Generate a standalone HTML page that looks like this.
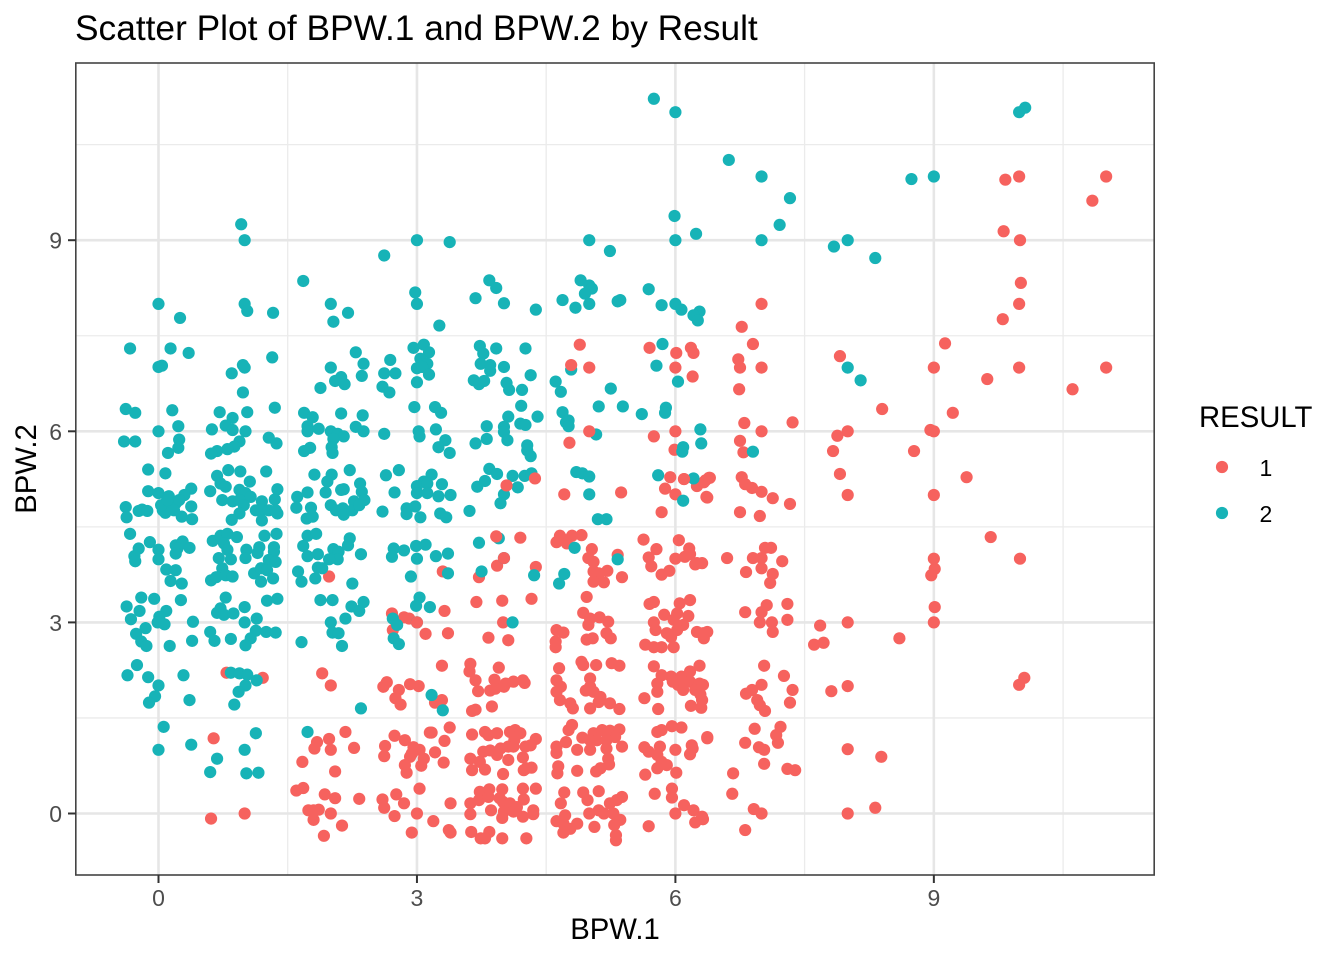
<!DOCTYPE html>
<html lang="en">
<head>
<meta charset="utf-8">
<title>Scatter Plot of BPW.1 and BPW.2 by Result</title>
<style>
html,body{margin:0;padding:0;background:#fff;}
svg{display:block;font-family:"Liberation Sans",Arial,sans-serif;}
</style>
</head>
<body>
<svg id="chart" xmlns="http://www.w3.org/2000/svg" width="1344" height="960" viewBox="0 0 1344 960">
  <rect x="0" y="0" width="1344" height="960" fill="#ffffff"/>
  <g id="grid"></g>
  <g id="points"></g>
  <rect x="75.8" y="63" width="1078.4" height="812" fill="none" stroke="#444444" stroke-width="1.6"/>
  <g id="axes"></g>
  <text x="75" y="40" font-size="35.3" fill="#000">Scatter Plot of BPW.1 and BPW.2 by Result</text>
  <text x="615" y="939" font-size="29.3" fill="#000" text-anchor="middle">BPW.1</text>
  <text x="0" y="0" font-size="29.3" fill="#000" text-anchor="middle" transform="translate(36,469) rotate(-90)">BPW.2</text>
  <g>
    <text x="1199" y="427" font-size="29.3" fill="#000">RESULT</text>
    <circle cx="1222" cy="467" r="6.1" fill="#F6625E"/>
    <text x="1259.5" y="476" font-size="23" fill="#000">1</text>
    <circle cx="1222" cy="513" r="6.1" fill="#17B3B7"/>
    <text x="1259.5" y="522" font-size="23" fill="#000">2</text>
  </g>
</svg>
<script>
const xTicks = [0, 3, 6, 9];
const yTicks = [0, 3, 6, 9];
const xMinorTicks = [1.5, 4.5, 7.5, 10.5];
const yMinorTicks = [1.5, 4.5, 7.5, 10.5];

const result2X = [
-.12,.08,-.12,0,.12,.38,.30,-.38,-.37,-.23,-.19,-.13,
.05,.08,.14,.2,.27,.38,.39,.03,.1,.24,.18,
.68,.81,.95,1.25,1.06,.6,.72,.78,1.38,1.35,.94,1.01,1.07,
.74,.86,.94,.99,1.2,.94,.85,1.13,1.2,1.2,1.28,1.38,1.36,
1.81,2.01,1.96,2.22,2.34,2.36,1.61,1.73,1.6,1.77,1.72,1.79,
1.94,2.12,2.15,2.27,2.39,2,2.06,2.14,2.15,2.25,2.33,2.6,2.64,
-.33,-.1,-.23,-.28,-.27,0,0,.2,.28,.36,.22,.2,.09,.2,.14,.27,
.63,.72,.8,.91,.76,.8,.7,.84,.74,.61,.67,.78,.86,1.02,1.01,
1.17,1.15,1.23,1.37,1.34,1.34,1.11,1.19,1.28,1.36,1.26,1.19,1.33,
1.73,1.83,1.68,1.73,1.85,2.03,2.09,2.08,1.98,2.22,2.2,2.35,
1.85,1.9,1.62,1.66,1.82,2.25,
-.2,-.05,.26,-.37,-.22,-.32,.09,.01,-.01,.07,.4,-.15,-.26,-.2,-.14,.13,.39,
.78,.72,.68,.76,.87,1,1,1.14,.6,.65,.84,1.13,1.25,1.36,1.07,1.01,1.26,1.38,
1.88,2.02,2,2.17,2.24,2.33,2.38,2.02,2.09,2.13,1.66,
-.25,-.36,-.12,.29,0,-.04,-.11,.36,.06,0,.38,
.84,.94,1.03,1.14,1.01,.93,.88,1.13,1,.68,.6,1.02,1.16,1.73,2.35,
2.79,3.17,3.08,3,3.12,3.29,3,3.12,3.25,3.39,2.74,2.98,2.88,2.88,3.04,3.27,3.34,
3.61,3.7,3.79,3.84,3.93,4.11,4.25,4.33,4.17,4.01,3.97,
4.85,4.92,5,5,5.1,5.2,5.8,6.21,6.09,
2.73,2.85,2.71,2.99,3.1,3,3.22,3.36,2.93,3.36,
3.72,3.95,4.01,4.36,3.75,4.11,
3.03,2.99,3.15,2.72,2.77,2.73,2.79,3,
4.83,5.33,4.71,4.65,3.17,3.3,
3,3.38,5,5.24,6,6.24,5.99,3.84,3.92,3.68,4.01,4.38,2.98,3,3.26,
4.9,5,5.03,4.95,5,4.69,4.84,5.33,5.36,5.69,5.84,6,6.07,6.28,6.21,6.26,
2.96,3.08,3.14,3.04,3.12,3,3.06,3.14,3,2.97,3.21,3.28,3.22,3.02,3.03,3.33,3.25,3.38,
3.68,3.81,3.81,4.01,4.01,4.05,3.73,3.77,3.92,4.26,3.74,3.85,3.85,4.01,4.32,
3.66,3.72,3.78,4.04,4.07,4.22,4.21,4.06,4.4,4.2,4.26,4.28,4.28,4.32,
4.61,4.67,5.25,5.11,5.39,5.61,5.89,5.88,4.69,4.76,4.73,4.76,5.08,5.78,5.85,6.03,6.29,6.3,6.09,6.08,4.79,
.96,1,2.62,1.68,0,.25,1,1.03,1.33,2,2.2,2.03,
-.33,.14,.35,0,.04,.98,1,.85,1.32,.98,1.35,2.29,2.38,2.36,2,2.12,2.05,2.16,1.88,
2.62,2.69,2.75,2.6,2.68,
-.38,-.27,.16,.23,0,-.4,-.27,.24,.23,.11,
.71,.86,.78,.86,1.01,.62,1.03,.94,.88,.8,.68,.61,1.28,1.37,
1.69,1.79,1.73,1.73,1.86,2,2.08,2.15,2.03,2.01,2.02,1.76,1.69,2.12,2.37,2.29,2.38,2.62,
5.75,6,6.62,7,7.33,7.21,7,7.84,8,8.32,8.74,9,9.99,10.06,8,8.15,6.9
];
const result2Y = [
5.40,5.34,5.06,5.03,4.98,5.10,5.0,4.81,4.65,4.75,4.77,4.75,
4.76,4.72,4.87,4.87,4.66,4.82,4.62,4.84,4.92,4.92,4.76,
5.30,5.39,5.37,5.37,5.21,5.06,5.18,5.13,5.09,4.93,5.08,5.03,4.97,
4.92,4.9,4.92,4.84,4.9,4.71,4.61,4.76,4.76,4.6,4.76,4.71,4.76,
5.32,5.32,5.21,5.39,5.18,5.05,4.97,5.04,4.8,4.8,4.63,4.66,
5.04,5.08,5.09,4.9,4.92,4.84,4.76,4.79,4.69,4.76,4.84,4.74,5.31,
4.39,4.26,4.16,4.04,3.96,4.14,3.99,4.21,4.27,4.17,4.16,4.08,3.83,3.82,3.65,3.61,
4.28,4.36,4.39,4.34,4.24,4.14,4.01,3.99,3.85,3.66,3.71,3.74,3.72,4.14,4.01,
4.18,4.09,4.36,4.39,4.18,4.11,3.77,3.85,3.98,3.95,3.82,3.64,3.69,
4.36,4.39,4.2,4.04,4.07,4.15,4.11,3.99,3.99,4.32,4.21,4.07,
3.86,3.85,3.8,3.64,3.69,3.61,
3.39,3.37,3.35,3.25,3.18,3.05,3.18,3.09,3,2.97,3.01,2.91,2.82,2.7,2.63,2.63,2.71,
3.39,3.22,3.15,3.12,3.14,3.24,3,3.06,2.85,2.71,2.74,2.87,2.85,2.84,2.75,2.64,3.34,3.37,
3.35,3.35,3,3.06,3.25,3.18,3.32,2.84,2.83,2.63,2.69,
2.33,2.17,2.14,2.17,2.01,1.84,1.74,1.78,1.36,1,1.08,
2.21,2.2,2.18,2.09,2.01,1.91,1.71,1.26,1,.86,.65,.63,.64,1.28,1.65,
5.39,5.32,5.21,5.14,5.18,5.17,5.03,5.03,4.98,5,5.04,4.82,4.79,4.7,4.65,4.71,4.65,
4.75,5.13,5.22,5.41,5.33,5.3,5.3,5.34,5.12,5.01,4.87,
5.36,5.34,5.29,5.01,4.62,4.62,5.31,5.26,4.91,
4.16,4.13,4.03,4.2,4.22,4,4.04,4.08,3.72,3.77,
4.25,4.32,4.01,3.74,3.8,3,
3.39,3.26,3.24,3.06,2.96,2.75,2.66,3,
4.17,3.99,3.76,3.61,1.86,1.62,
9,8.97,9,8.83,9,9.1,9.38,8.37,8.25,8.09,8.01,7.91,8.18,8,7.66,
8.37,8.29,8.24,8.16,8,8.06,7.94,8.04,8.06,8.23,7.98,8,7.91,7.88,7.82,7.74,
7.31,7.36,7.24,7.14,7.06,6.99,7.01,6.89,6.77,6.38,6.38,6.29,6.03,6,5.92,5.86,5.75,5.66,
5.81,5.88,6.08,6.07,5.99,5.86,7.34,7.22,7.3,7.3,7.06,7.04,6.95,7.01,6.88,
6.8,6.74,6.79,6.76,6.65,6.65,6.4,6.23,6.23,6.12,6.1,5.78,5.7,5.61,
6.78,6.62,6.67,6.39,6.39,6.27,6.37,6.29,6.3,6.17,6.14,6.08,5.95,7.03,7.37,6.78,6.03,5.81,5.75,5.68,6.97,
9.25,9,8.76,8.36,8,7.78,8,7.89,7.86,8,7.86,7.72,
7.3,7.3,7.23,7.01,7.03,7.04,7,6.91,7.16,6.61,6.37,7.24,7.06,6.87,7,6.85,6.79,6.74,6.68,
6.91,7.12,6.91,6.7,6.61,
6.35,6.29,6.33,6.08,6,5.84,5.84,5.87,5.74,5.66,
6.3,6.21,6.09,6.02,6,6.03,6.3,5.84,5.76,5.72,5.69,5.65,5.9,5.81,
6.29,6.22,6.08,6,6.04,6,5.96,5.92,5.88,5.75,5.66,5.74,5.69,6.28,6.25,6.07,6,5.96,
11.22,11.01,10.26,10,9.66,9.24,9,8.9,9,8.72,9.96,10,11.01,11.08,7,6.8,5.68
];

const result1X = [
.79,1.21,1.9,2,.64,.61,1,2.65,2.61,
1.84,1.81,1.98,2,2.17,2.27,1.67,2.05,1.68,1.6,1.93,2.05,2.33,1.74,1.8,1.86,2,1.8,2.13,1.92,
2.63,2.62,2.6,2.62,1.98,
3.29,3.02,2.92,2.79,2.75,2.81,3.21,3.29,3.38,3.15,3.17,3.32,3.21,3.31,
2.74,2.86,2.96,3.03,2.92,3.08,3.05,2.86,2.88,2.94,
3.03,2.76,2.85,2.74,3,3.19,2.94,3.37,3.39,3.39,
3.62,3.61,3.68,3.71,3.68,3.64,3.87,3.95,3.9,3.85,3.91,4.01,4.03,4.12,4.23,4.25,
3.64,3.79,3.83,3.93,4.08,4.14,4.2,4.38,4.13,4.26,4.32,3.77,3.85,3.97,4.06,4.12,
3.62,3.73,3.93,4.06,4.23,3.64,3.79,4,4.24,4.33,4.27,
3.62,3.62,3.73,3.84,3.99,4.23,4.38,4.24,3.72,3.83,3.96,4,4.08,4.16,3.86,4.01,3.99,4.12,4.23,4.35,4.35,
3.63,3.84,3.79,3.74,3.99,4.27,
4.91,4.93,5.08,5.26,5.35,4.65,4.62,4.67,4.62,4.66,4.78,4.81,5.01,5.01,4.96,5.05,5.13,5.11,5.01,5.24,5.35,
5.75,6.28,5.84,5.95,6.07,6.17,5.79,5.79,5.64,5.97,6.03,6.1,6.17,6.28,6.09,6.23,6.29,5.8,6.18,6.3,
4.8,4.76,4.73,4.62,4.62,4.92,5.05,5.15,5.24,5.35,5.01,5.09,5.3,5.2,4.86,5.01,5.2,5.38,5.22,5.23,5.13,5.08,4.64,4.63,4.86,
5.64,5.69,5.82,5.79,5.84,5.9,5.79,5.65,6.01,6,6.19,6.17,6.2,5.79,5.84,5.96,6.07,6.37,
4.71,4.67,4.93,4.98,5.11,5.38,5.24,5.32,5,5.11,5.17,5.28,4.62,4.72,4.7,4.86,4.78,4.7,5.06,5.36,5.29,5.31,5.31,
5.76,5.96,5.96,6.1,6.21,6,6.32,6.23,5.69,
4.71,5.37,5.88,6,6.25,6.35,6.36,5.84,6.1,6.33,6.4,
4.2,3.93,4.38,3.72,3.3,
3.69,3.99,4.33,4,3.83,4.06,3.32,3.1,3.36,2.85,2.91,2.72,2.71,
4.66,4.62,4.72,4.8,4.91,4.74,5.03,4.99,5.05,5.33,5.05,5.21,5.11,5.05,5.17,5.38,
5.63,6.04,5.78,6.16,5.69,6,6.11,5.72,6.23,6.31,5.84,5.93,
4.97,4.93,5.12,5.22,4.99,5.01,4.97,5.04,5.2,5.25,4.62,4.7,4.61,4.61,
5.7,5.75,6.17,6.05,6.15,6.02,5.87,5.98,6.09,5.75,5.77,6.02,5.9,5.95,6.25,6.33,6.37,5.65,5.75,5.84,5.98,
4.89,5.7,6.01,6.18,6.21,6.2,5.75,4.77,5.99,
7,6.77,6.9,6.73,6.75,7,6.74,6.8,7,7.36,6.75,6.79,
6.77,6.81,6.89,7,7.13,7.33,6.75,6.98,6.39,6.37,
6.6,6.9,7,7.04,7.11,7.24,6.82,7,7.13,7.1,6.81,7,7.06,7.3,7.3,6.98,7.12,7.13,6.32,
7.03,7.26,7.36,7.33,6.82,6.89,7,6.95,6.98,7.04,
7.22,7.17,6.92,6.81,6.97,7.03,7.19,7.03,7.3,7.39,6.67,6.66,6.91,7,6.81,6.37,
7.68,7.61,7.72,8,8.6,7.81,8,8,8.39,8.32,8,
7.91,8,7.88,7.83,7.91,8,8.4,8.77,9.22,9.13,9,8.96,9,9,9.38,9.66,9,9.01,8.97,9.01,9,10,9.99,10.05,
9.83,9.99,11,10.84,9.81,10,10.01,9.99,9.8,9.62,9.99,10.61,11,
6.25,6.17,6.32,6.31,6.31
];
const result1Y = [
2.21,2.13,2.2,2.01,1.18,-.08,0,2.06,1.99,
1.12,1.02,1.17,1,1.28,1.03,.81,.66,.4,.36,.3,.24,.23,.05,.05,.06,0,-.1,-.19,-.35,
1.06,.9,.22,.09,3.72,
2.32,2,2.03,1.94,1.81,1.71,1.74,1.78,1.35,1.27,1.27,1.14,.96,.8,
1.22,1.15,1.04,1,.89,.86,.75,.76,.64,.94,
.39,.3,.16,-.04,0,-.12,-.3,-.26,-.3,.16,
2.35,2.23,2.09,1.92,1.63,1.61,1.68,2.29,2.1,1.93,1.96,1.99,2.04,2.07,2.09,2.05,
1.24,1.28,1.23,1.26,1.28,1.31,1.26,1.17,1.15,1.05,1.07,.97,.99,1.02,1.05,1.05,
.86,.81,.92,.84,.88,.68,.69,.62,.68,.72,.71,
.16,-.01,.34,.38,.38,.39,.39,.22,.21,.26,.24,.18,.16,.1,.05,.03,-.07,.03,-.05,.05,-.01,
-.29,-.29,-.39,-.39,-.39,-.39,
2.38,2.33,2.33,2.36,2.32,2.28,2.09,1.99,1.91,1.78,1.73,1.65,2.12,1.99,1.93,1.91,1.83,1.75,1.65,1.73,1.64,
2.31,2.32,2.17,2.15,2.15,2.23,2.04,1.91,1.81,2.07,2.02,2.04,2.07,2.04,1.94,1.94,1.87,1.64,1.69,1.66,
1.39,1.31,1.12,1.05,.95,1.19,1.26,1.31,1.3,1.32,1.15,1.15,1.2,1.15,1,1,1.02,1.05,.86,.77,.71,.66,.74,.63,.67,
1.04,.97,1.05,.92,.81,.76,.71,.61,.64,1,1.07,.93,1.02,1.28,1.31,1.37,1.35,1.18,
.33,.16,.33,.21,.35,.26,.16,.21,0,.05,0,0,-.12,-.03,-.16,-.16,-.24,-.3,-.21,-.1,-.18,-.34,-.42,
.31,.39,.25,.13,.05,0,-.09,-.14,-.2,
5.01,5.04,5.1,5.01,5.14,5.23,4.97,4.73,5.25,5.2,5.27,
4.33,3.89,3.87,3.71,3.8,
3.32,3.34,3.37,3,2.76,2.72,3.18,2.82,2.83,3.08,3.06,2.88,3.14,
4.36,4.26,4.29,4.36,4.37,4.24,4.15,4.01,3.95,4.06,3.8,3.81,3.77,3.64,3.63,3.71,
4.3,4.29,4.15,4.16,4.02,4,4.03,3.88,3.91,3.93,3.75,3.81,
3.4,3.15,3.08,3.01,2.96,3.06,2.73,2.75,2.83,2.75,2.88,2.84,2.7,2.61,
3.29,3.32,3.35,3.3,3.1,3.14,3.12,3.04,2.96,3,2.88,2.88,2.83,2.77,2.85,2.75,2.85,2.65,2.61,2.61,2.61,
7.36,7.31,7.23,7.31,7.23,6.86,5.92,5.82,5.71,
8,7.64,7.37,7.13,7,7,6.66,6.13,6,6.14,5.85,5.67,
5.28,5.17,5.11,5.05,4.95,4.86,4.73,4.67,5.27,4.96,
4.01,4.01,4.01,4.17,4.17,3.96,3.79,3.85,3.76,3.62,3.16,3.16,3.27,3.29,3.04,3,3,2.85,2.83,
2.32,2.16,1.94,1.74,1.88,1.94,2.02,1.78,1.7,1.61,
1.36,1.23,1.33,1.11,1.04,1,1.11,.78,.7,.68,.63,.31,.07,0,-.26,1.2,
2.95,2.65,2.68,3,2.75,1.92,2,1.01,.89,.09,0,
7.18,6,5.93,5.69,5.33,5,6.35,5.69,6.29,7.38,7,6.02,6,5,5.28,4.34,4,3.84,3.74,3.24,3,4,2.02,2.13,
9.95,10,10,9.62,9.14,9,8.33,8,7.76,6.82,7,6.66,7,
3.93,4.07,2.02,1.78,-.05
];
const result1TopX = [5,6,4.79,5,6,4.01,3,3.92,4.04,4.37,5.94,6.1];
const result1TopY = [6,6,7.04,7,7,4.01,3,4.35,5.15,5.26,5.28,5.25];

const svgNS = 'http://www.w3.org/2000/svg';
const PANEL = {left: 76, right: 1154, top: 63, bottom: 875};
function xScale(v) { return 158.5 + v * 86.15; }
function yScale(v) { return 813.5 - v * 63.7; }

const gridLayer = document.getElementById('grid');
const axisLayer = document.getElementById('axes');
const pointLayer = document.getElementById('points');

function makeLine(parent, name, x1, y1, x2, y2, stroke, width) {
  const line = document.createElementNS(svgNS, 'line');
  
  
  line.setAttribute('x1', x1);
  line.setAttribute('y1', y1);
  line.setAttribute('x2', x2);
  line.setAttribute('y2', y2);
  line.setAttribute('stroke', stroke);
  line.setAttribute('stroke-width', width);
  parent.appendChild(line);
}
function makeLabel(name, x, y, anchor, content) {
  const label = document.createElementNS(svgNS, 'text');
  
  
  label.setAttribute('x', x);
  label.setAttribute('y', y);
  label.setAttribute('text-anchor', anchor);
  label.setAttribute('font-size', '23');
  label.setAttribute('fill', '#4D4D4D');
  label.textContent = content;
  axisLayer.appendChild(label);
}

xMinorTicks.forEach(function (v) {
  makeLine(gridLayer, 'x-minor-gridline', xScale(v), PANEL.top, xScale(v), PANEL.bottom, '#EBEBEB', 1.3);
});
yMinorTicks.forEach(function (v) {
  makeLine(gridLayer, 'y-minor-gridline', PANEL.left, yScale(v), PANEL.right, yScale(v), '#EBEBEB', 1.3);
});
xTicks.forEach(function (v) {
  makeLine(gridLayer, 'x-major-gridline', xScale(v), PANEL.top, xScale(v), PANEL.bottom, '#E6E6E6', 2.6);
  makeLine(axisLayer, 'x-tick-mark', xScale(v), PANEL.bottom, xScale(v), PANEL.bottom + 8, '#333333', 2);
  makeLabel('x-tick-label', xScale(v), 906, 'middle', String(v));
});
yTicks.forEach(function (v) {
  makeLine(gridLayer, 'y-major-gridline', PANEL.left, yScale(v), PANEL.right, yScale(v), '#E6E6E6', 2.6);
  makeLine(axisLayer, 'y-tick-mark', PANEL.left - 8, yScale(v), PANEL.left, yScale(v), '#333333', 2);
  makeLabel('y-tick-label', 62, yScale(v) + 8.5, 'end', String(v));
});

function drawSeries(xs, ys, color, name) {
  xs.forEach(function (xValue, i) {
    const dot = document.createElementNS(svgNS, 'circle');
    
    
    dot.setAttribute('cx', xScale(xValue));
    dot.setAttribute('cy', yScale(ys[i]));
    dot.setAttribute('r', 6.1);
    dot.setAttribute('fill', color);
    pointLayer.appendChild(dot);
  });
}
drawSeries(result1X, result1Y, '#F6625E', 'point-result-1');
drawSeries(result2X, result2Y, '#17B3B7', 'point-result-2');
drawSeries(result1TopX, result1TopY, '#F6625E', 'point-result-1');
</script>
</body>
</html>
